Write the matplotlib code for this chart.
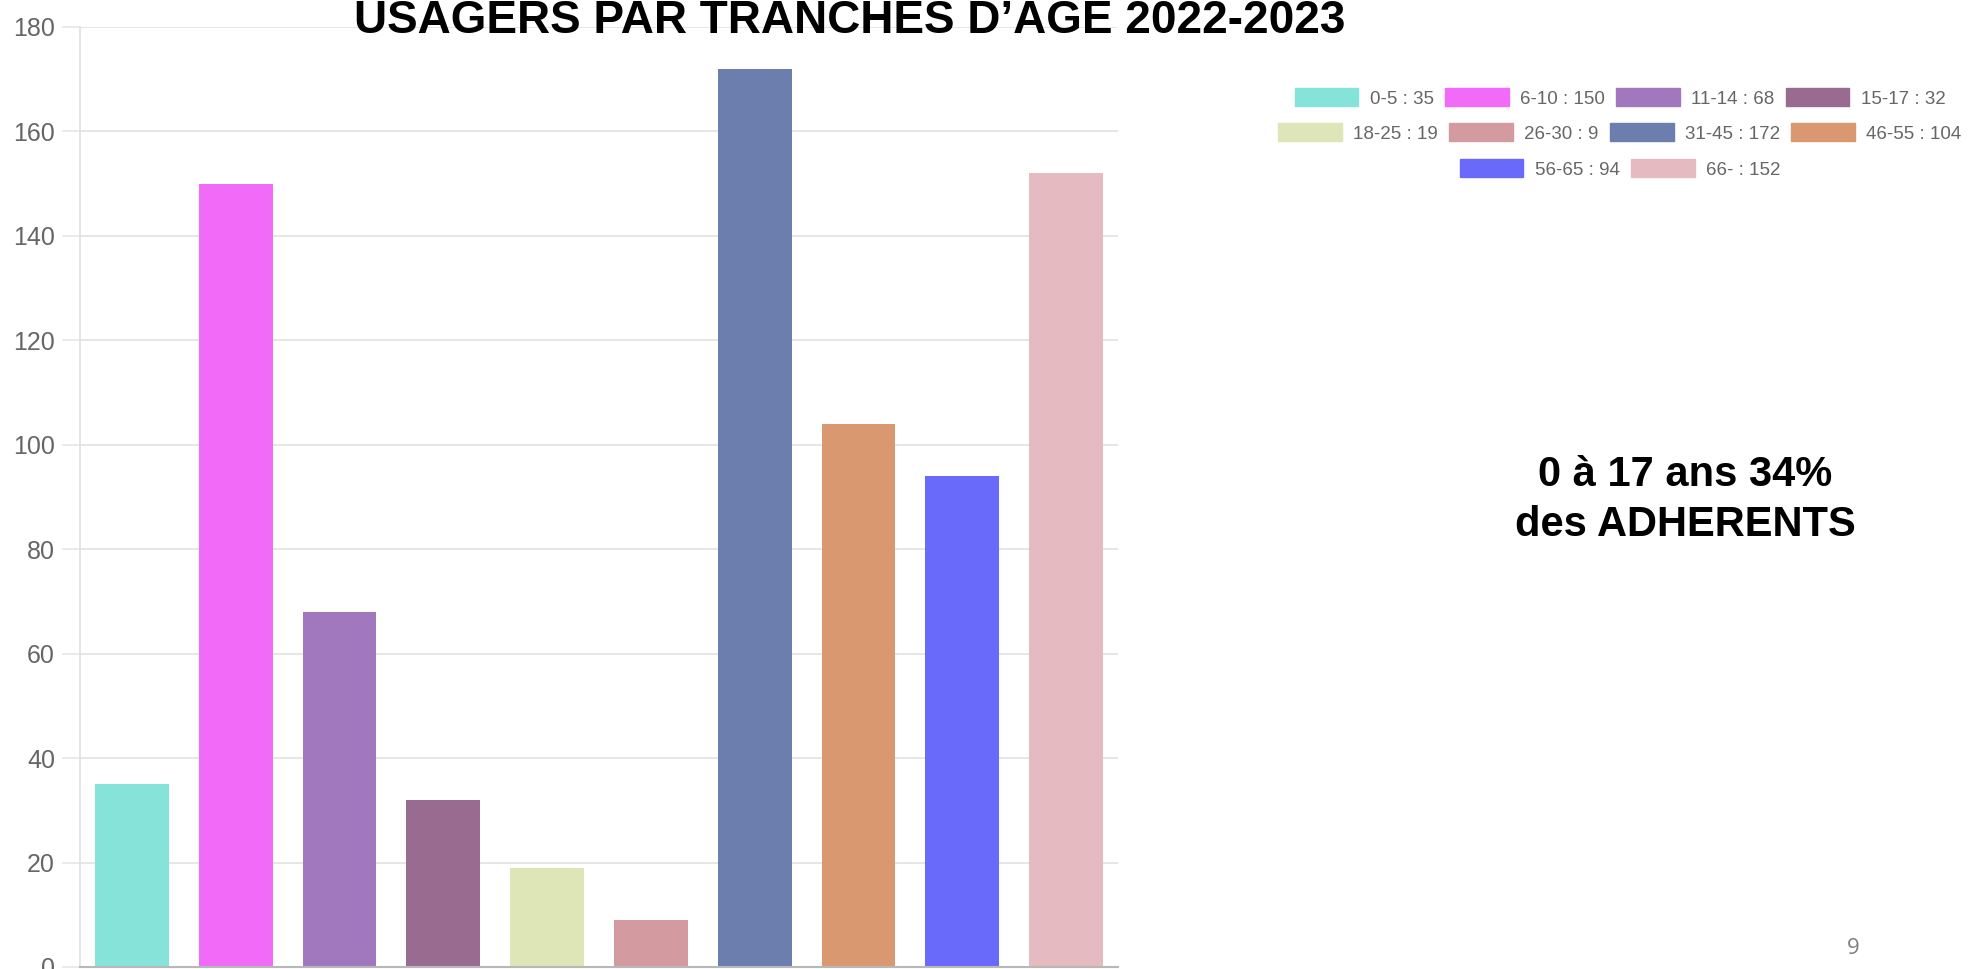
import matplotlib.pyplot as plt
from matplotlib.patches import Patch

# data
tranches = ["0-5", "6-10", "11-14", "15-17", "18-25", "26-30", "31-45", "46-55", "56-65", "66-"]
usagers = [35, 150, 68, 32, 19, 9, 172, 104, 94, 152]
couleurs = ["#85E3DA", "#F26AF8", "#A177BE", "#9A6B90", "#DEE6B8",
            "#D39BA0", "#6B7EAE", "#DA9871", "#6A6AFA", "#E5BAC0"]
y_ticks = [0, 20, 40, 60, 80, 100, 120, 140, 160, 180]

narrow = ["Liberation Sans Narrow", "Liberation Sans", "DejaVu Sans"]

fig = plt.figure(figsize=(19.75, 9.69), dpi=100)
ax = fig.add_axes([80 / 1975, 2 / 969, 1038 / 1975, 940 / 969])

x = range(len(tranches))
ax.bar(x, usagers, width=0.71, color=couleurs, zorder=2)

ax.set_xlim(-0.5, len(tranches) - 0.5)
ax.set_ylim(0, 180)
ax.set_yticks(y_ticks)
ax.set_xticks([])
ax.grid(axis="y", color="#e6e6e6", linewidth=1.4, zorder=0)
ax.tick_params(axis="y", length=13, width=1.2, color="#e6e6e6", pad=5,
               labelcolor="#666666", labelsize=18)
for lab in ax.get_yticklabels():
    lab.set_family(narrow)
for side in ["top", "right"]:
    ax.spines[side].set_visible(False)
ax.spines["left"].set_color("#e0e0e0")
ax.spines["left"].set_linewidth(1.2)
ax.spines["bottom"].set_color("#b8b8b8")
ax.spines["bottom"].set_linewidth(1.5)

# title at the very top of the slide
fig.text(850 / 1975, 1 - 33 / 969, "USAGERS PAR TRANCHES D\u2019AGE 2022-2023",
         ha="center", va="baseline", fontsize=33, fontweight="bold",
         family=narrow, color="black")

# legend, three centred rows
rows = [range(0, 4), range(4, 8), range(8, 10)]
row_y = [98, 133, 169]
for idx, yy in zip(rows, row_y):
    handles = [Patch(facecolor=couleurs[i], edgecolor=couleurs[i],
                     label=f"{tranches[i]} : {usagers[i]}") for i in idx]
    leg = fig.legend(handles=handles, loc="center", ncol=len(handles),
                     bbox_to_anchor=(1620 / 1975, 1 - yy / 969),
                     frameon=False, handlelength=3.4, handleheight=1.05,
                     handletextpad=0.6, columnspacing=0.6,
                     prop={"family": narrow, "size": 13.5})
    for t in leg.get_texts():
        t.set_color("#666666")

fig.text(1685 / 1975, 1 - 500 / 969, "0 à 17 ans 34%\ndes ADHERENTS",
         ha="center", va="center", fontsize=30, fontweight="bold",
         family=["Liberation Sans", "DejaVu Sans"], linespacing=1.3)

fig.text(1853 / 1975, 1 - 948 / 969, "9", ha="center", va="center",
         fontsize=16, color="#808080", family=["Open Sans", "DejaVu Sans"])

fig.savefig("out.png", dpi=100)
